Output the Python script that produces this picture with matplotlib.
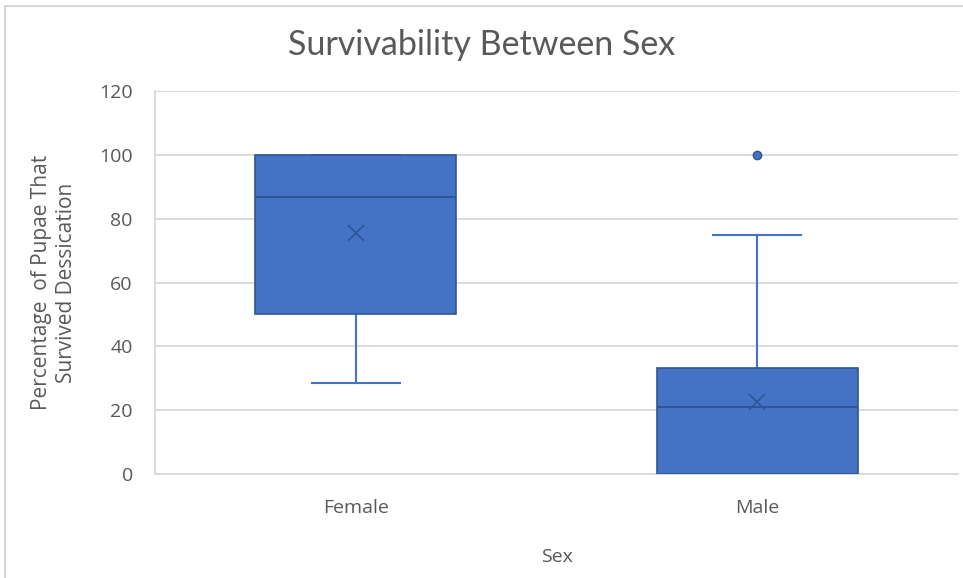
import matplotlib
matplotlib.use("Agg")
import matplotlib.pyplot as plt
from matplotlib.lines import Line2D

# Summary statistics for each group
categories = ["Female", "Male"]
q1_vals = [50.0, 0.0]
median_vals = [86.7, 21.0]
q3_vals = [100.0, 33.3]
whisker_low = [28.6, 0.0]
whisker_high = [100.0, 75.0]
mean_vals = [75.6, 22.6]
outliers = [[], [100.0]]

y_ticks = [0, 20, 40, 60, 80, 100, 120]

plt.rcParams['font.family'] = ['Open Sans', 'DejaVu Sans']

fill = "#4472C4"
edge = "#2F5597"
text_col = "#595959"
grid_col = "#D9D9D9"

fig = plt.figure(figsize=(9.63, 5.78), dpi=100)
ax = fig.add_axes([155 / 963, 1 - 474 / 578, (958 - 155) / 963, (474 - 91) / 578])

stats = []
for i, name in enumerate(categories):
    stats.append(dict(label=name, q1=q1_vals[i], med=median_vals[i], q3=q3_vals[i],
                      whislo=whisker_low[i], whishi=whisker_high[i],
                      mean=mean_vals[i], fliers=outliers[i]))

art = ax.bxp(stats, positions=[1, 2], widths=0.5, patch_artist=True, showmeans=True,
             boxprops=dict(facecolor=fill, edgecolor=edge, linewidth=1.2),
             medianprops=dict(color=edge, linewidth=1.4),
             whiskerprops=dict(color=fill, linewidth=1.5),
             capprops=dict(color=fill, linewidth=1.5),
             capwidths=0.22,
             meanprops=dict(marker="x", markeredgecolor=edge, markersize=11, markeredgewidth=1.2),
             flierprops=dict(marker="o", markerfacecolor=fill, markeredgecolor=edge, markersize=6))
for b in art["boxes"]:
    b.set_zorder(3)
for m in art["medians"] + art["means"]:
    m.set_zorder(4)

ax.set_xlim(0.5, 2.5)
ax.set_ylim(0, 120)
ax.set_yticks(y_ticks)
ax.yaxis.grid(True, color=grid_col, linewidth=1.3)
ax.set_axisbelow(True)
for s in ["top", "right"]:
    ax.spines[s].set_visible(False)
for s in ["left", "bottom"]:
    ax.spines[s].set_color(grid_col)
    ax.spines[s].set_linewidth(1.3)
ax.tick_params(axis="both", length=0, labelsize=14, colors=text_col, pad=16)
ax.tick_params(axis="x", pad=18)

ax.set_xlabel("Sex", fontsize=14, color=text_col, labelpad=22)
ax.set_ylabel("Percentage  of Pupae That\nSurvived Dessication", fontsize=15,
              color=text_col, labelpad=16, linespacing=1.25)

fig.text(0.5, 1 - 45 / 578, "Survivability Between Sex", ha="center", va="center",
         fontsize=24.5, color=text_col, family=["Lato", "DejaVu Sans"])

# thin frame around the chart area
fig.add_artist(Line2D([5 / 963, 1], [1 - 6 / 578, 1 - 6 / 578], transform=fig.transFigure,
                      color="#D0D0D0", linewidth=1.2))
fig.add_artist(Line2D([5 / 963, 5 / 963], [0, 1 - 6 / 578], transform=fig.transFigure,
                      color="#D0D0D0", linewidth=1.2))

fig.savefig("out.png", dpi=100)
